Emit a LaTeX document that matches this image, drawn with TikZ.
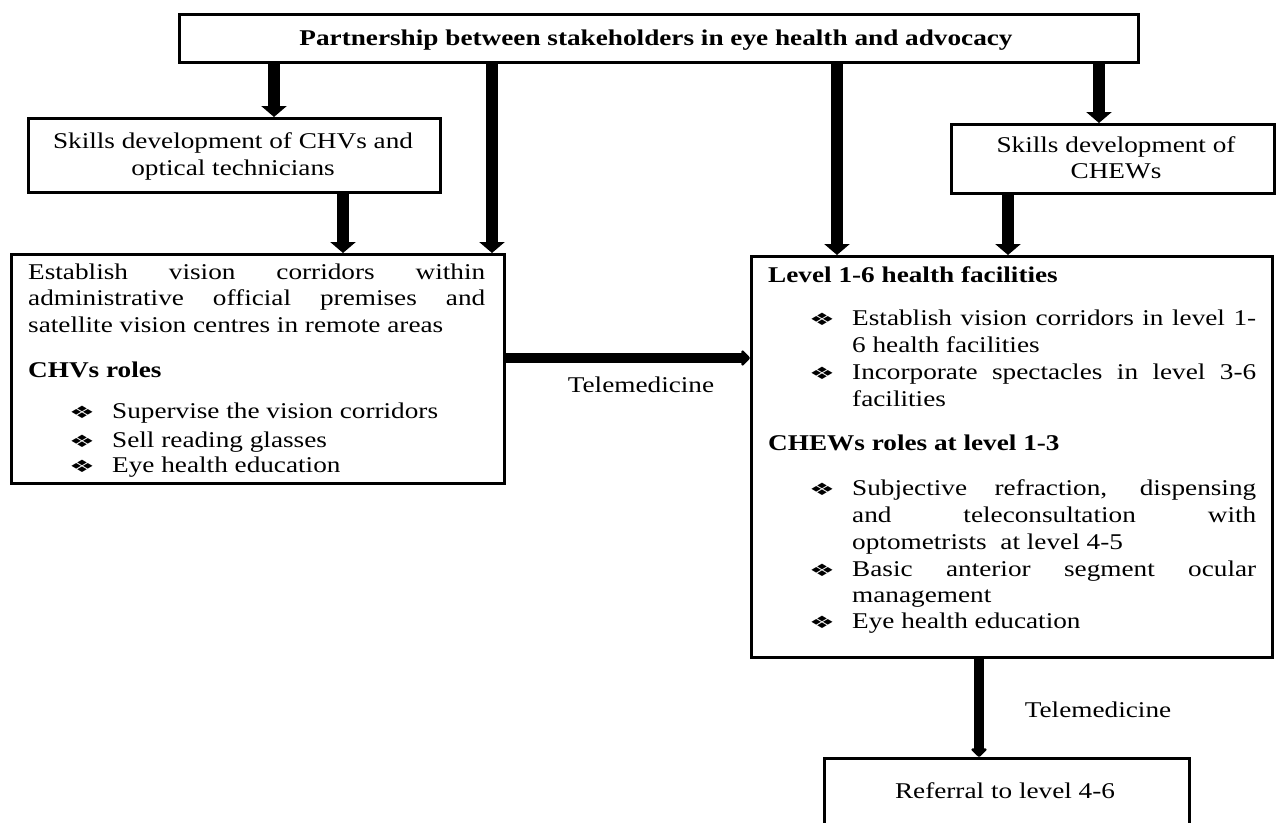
\documentclass[tikz,border=0pt]{standalone}
\usepackage{fontspec}
\setmainfont{Liberation Serif}
\newfontfamily\dejavu{DejaVu Sans}
\usetikzlibrary{arrows.meta}
\newcommand\sx[1]{\scalebox{1.21}[1]{#1}}
\newcommand\jus[2]{\sx{\makebox[\dimexpr #1pt*100/121\relax][s]{#2}}}
\newcommand\bul{\scalebox{1.7}[1]{\dejavu\fontsize{17}{17}\selectfont ❖}}
\begin{document}
\begin{tikzpicture}[x=1pt,y=-1pt,
  box/.style={draw=black, line width=3pt, inner sep=0pt, rectangle, anchor=north west, fill=white},
  txt/.style={inner sep=0pt, font=\fontsize{22.5}{27}\selectfont, anchor=base west},
  ctxt/.style={txt, anchor=base},
  btxt/.style={txt, font=\fontsize{22.5}{27}\selectfont\bfseries},
  bul/.style={inner sep=0pt, anchor=center},
  bigarr/.style={line width=12pt, -{Triangle[width=25pt,length=11pt]}},
  smarr/.style={line width=10pt, -{Triangle[width=18pt,length=9pt,round]}}]
\clip (0,0) rectangle (1276,822);
\fill[white] (0,0) rectangle (1276,822);

% boxes
\node[box, minimum width=959pt, minimum height=48pt] (top) at (178,13) {};
\node[box, minimum width=412pt, minimum height=74pt] (skA) at (27,117) {};
\node[box, minimum width=323pt, minimum height=69pt] (skB) at (950,123) {};
\node[box, minimum width=493pt, minimum height=229pt] (mainA) at (10,253) {};
\node[box, minimum width=521pt, minimum height=401pt] (mainB) at (750,255) {};
\node[box, minimum width=365pt, minimum height=120pt] (ref) at (823,757) {};

% arrow x positions
\coordinate (a1) at (274,0);
\coordinate (a2) at (492,0);
\coordinate (a3) at (837,0);
\coordinate (a4) at (1099,0);
\coordinate (a5) at (343,0);
\coordinate (a6) at (1008,0);
\coordinate (ty) at (0,358);
\coordinate (bx) at (979,0);

\draw[bigarr] (top.south -| a1) -- (skA.north -| a1);
\draw[bigarr] (top.south -| a2) -- (mainA.north -| a2);
\draw[bigarr] (top.south -| a3) -- (mainB.north -| a3);
\draw[bigarr] (top.south -| a4) -- (skB.north -| a4);
\draw[bigarr] (skA.south -| a5) -- (mainA.north -| a5);
\draw[bigarr] (skB.south -| a6) -- (mainB.north -| a6);
\draw[smarr] (mainA.east |- ty) -- (mainB.west |- ty);
\draw[smarr] (mainB.south -| bx) -- (ref.north -| bx);

% title
\node[ctxt, font=\fontsize{22.5}{27}\selectfont\bfseries] (title) at (656,45) {\sx{Partnership between stakeholders in eye health and advocacy}};

% skills boxes
\node[ctxt] (skA1) at (233,148) {\sx{Skills development of CHVs and}};
\node[ctxt] (skA2) at (233,175) {\sx{optical technicians}};
\node[ctxt] (skB1) at (1116,152) {\sx{Skills development of}};
\node[ctxt] (skB2) at (1116,178) {\sx{CHEWs}};

% left main box
\node[txt] (mA1) at (28,279) {\jus{457}{Establish vision corridors within}};
\node[txt] (mA2) at (28,305) {\jus{457}{administrative official premises and}};
\node[txt] (mA3) at (28,332) {\sx{satellite vision centres in remote areas}};
\node[btxt] (mA4) at (28,377) {\sx{CHVs roles}};
\node[bul] (bA1) at (82,412) {\bul};
\node[txt] (mA5) at (112,418) {\sx{Supervise the vision corridors}};
\node[bul] (bA2) at (82,441) {\bul};
\node[txt] (mA6) at (112,447) {\sx{Sell reading glasses}};
\node[bul] (bA3) at (82,466) {\bul};
\node[txt] (mA7) at (112,472) {\sx{Eye health education}};

% telemedicine labels
\node[ctxt] (tele1) at (641,392) {\sx{Telemedicine}};
\node[ctxt] (tele2) at (1098,717) {\sx{Telemedicine}};

% right main box
\node[btxt] (mB1) at (768,282) {\sx{Level 1-6 health facilities}};
\node[bul] (bB1) at (822,319) {\bul};
\node[txt] (mB2) at (852,325) {\jus{404}{Establish vision corridors in level 1-}};
\node[txt] (mB3) at (852,352) {\sx{6 health facilities}};
\node[bul] (bB2) at (822,373) {\bul};
\node[txt] (mB4) at (852,379) {\jus{404}{Incorporate spectacles in level 3-6}};
\node[txt] (mB5) at (852,406) {\sx{facilities}};
\node[btxt] (mB6) at (768,450) {\sx{CHEWs roles at level 1-3}};
\node[bul] (bB3) at (822,489) {\bul};
\node[txt] (mB7) at (852,495) {\jus{404}{Subjective refraction, dispensing}};
\node[txt] (mB8) at (852,522) {\jus{404}{and teleconsultation with}};
\node[txt] (mB9) at (852,549) {\sx{optometrists\ \ at level 4-5}};
\node[bul] (bB4) at (822,570) {\bul};
\node[txt] (mB10) at (852,576) {\jus{404}{Basic anterior segment ocular}};
\node[txt] (mB11) at (852,602) {\sx{management}};
\node[bul] (bB5) at (822,622) {\bul};
\node[txt] (mB12) at (852,628) {\sx{Eye health education}};

% referral
\node[ctxt] (ref1) at (1005,798) {\sx{Referral to level 4-6}};
\end{tikzpicture}
\end{document}
